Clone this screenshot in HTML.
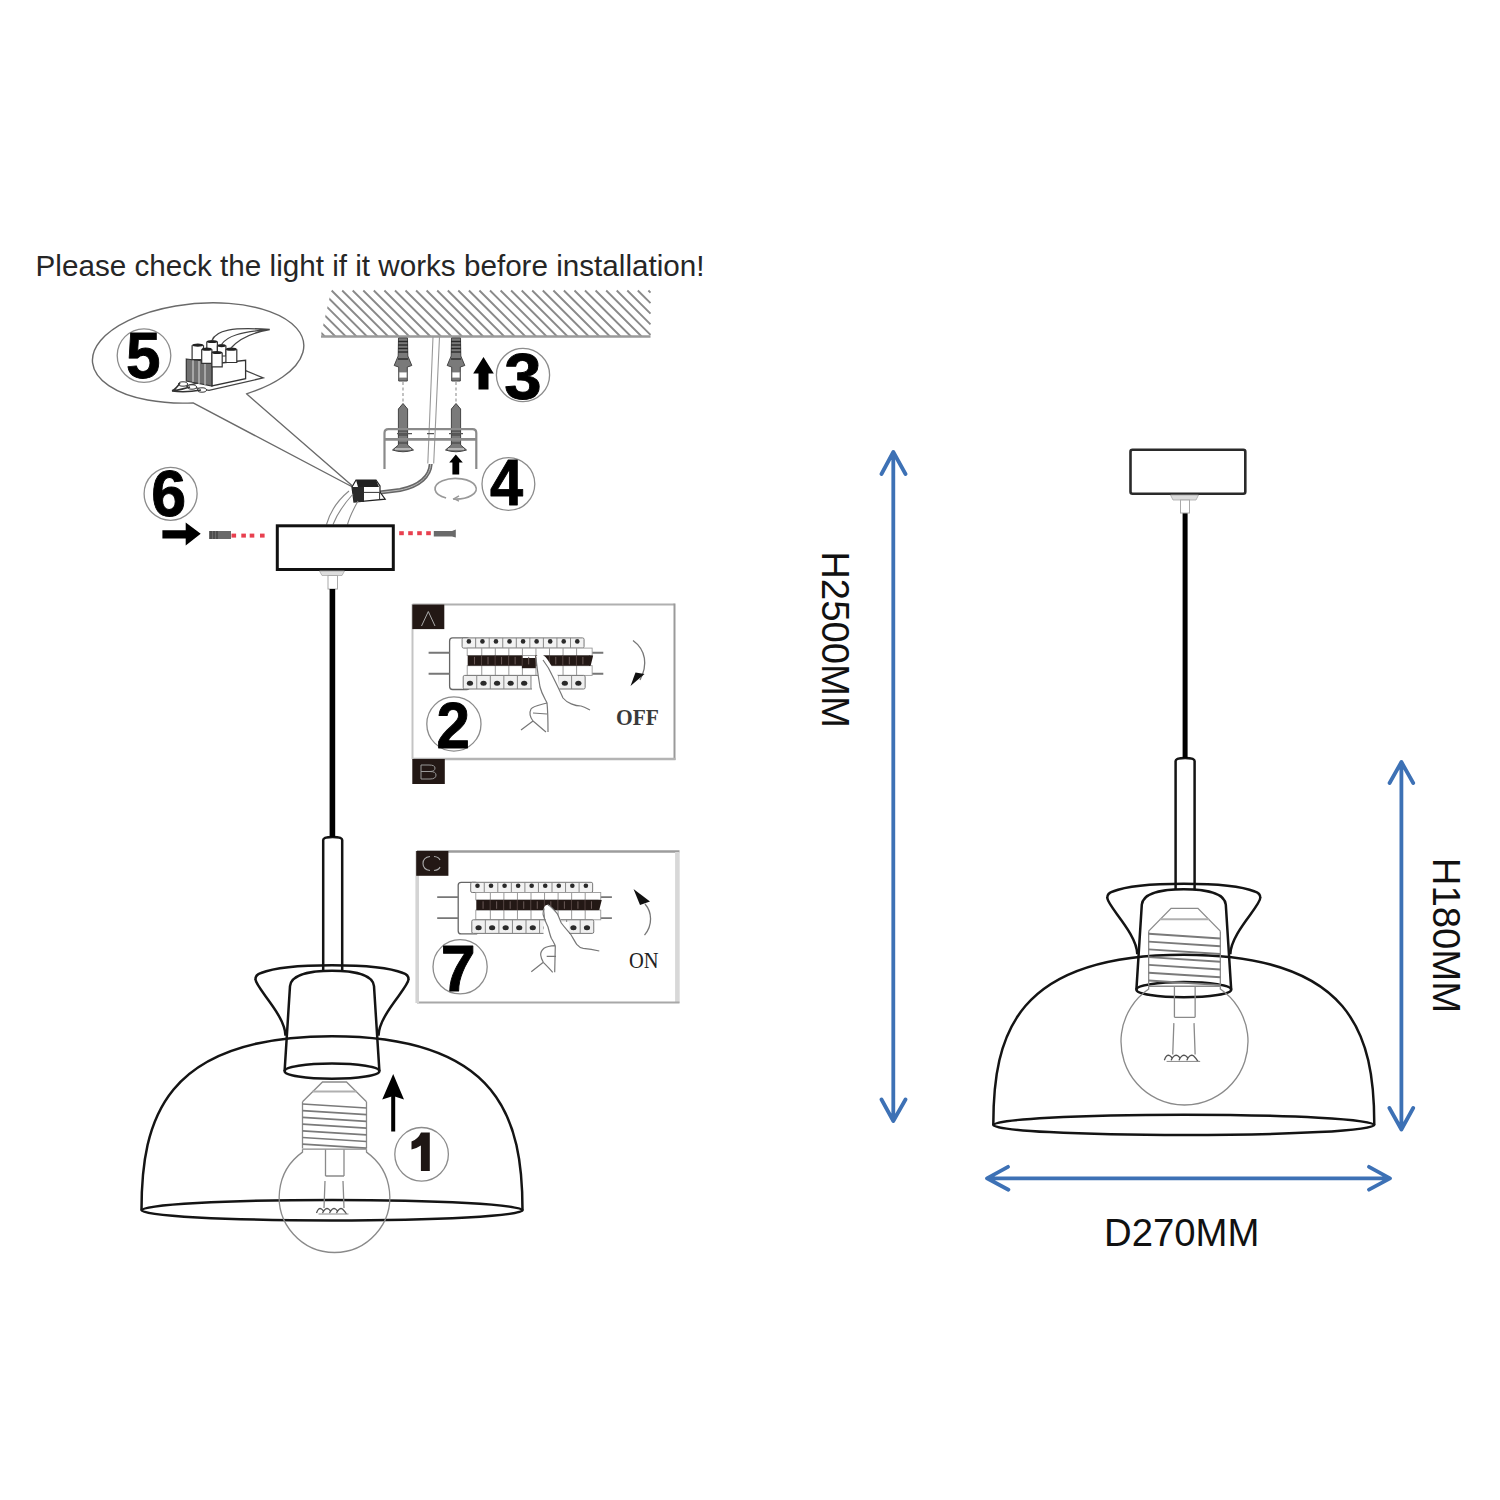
<!DOCTYPE html>
<html><head><meta charset="utf-8"><style>
html,body{margin:0;padding:0;background:#fff;width:1500px;height:1500px;overflow:hidden}
svg{display:block}
</style></head><body>
<svg width="1500" height="1500" viewBox="0 0 1500 1500">
<rect width="1500" height="1500" fill="#fff"/>
<text x="35.6" y="275.8" font-family="Liberation Sans" font-size="29.65" fill="#262626">Please check the light if it works before installation!</text>
<defs><clipPath id="hc"><path d="M331.6 289 L652 289 L652 337 L320.5 337 Z"/></clipPath></defs>
<path clip-path="url(#hc)" d="M318.0 329.7L324.8 336.5M318.0 319.1L335.4 336.5M318.0 308.6L345.9 336.5M318.0 298.0L356.5 336.5M321.0 290.5L367.0 336.5M331.6 290.5L377.6 336.5M342.2 290.5L388.2 336.5M352.7 290.5L398.7 336.5M363.3 290.5L409.3 336.5M373.8 290.5L419.8 336.5M384.4 290.5L430.4 336.5M395.0 290.5L441.0 336.5M405.5 290.5L451.5 336.5M416.1 290.5L462.1 336.5M426.6 290.5L472.6 336.5M437.2 290.5L483.2 336.5M447.8 290.5L493.8 336.5M458.3 290.5L504.3 336.5M468.9 290.5L514.9 336.5M479.4 290.5L525.4 336.5M490.0 290.5L536.0 336.5M500.6 290.5L546.6 336.5M511.1 290.5L557.1 336.5M521.7 290.5L567.7 336.5M532.2 290.5L578.2 336.5M542.8 290.5L588.8 336.5M553.4 290.5L599.4 336.5M563.9 290.5L609.9 336.5M574.5 290.5L620.5 336.5M585.0 290.5L631.0 336.5M595.6 290.5L641.6 336.5M606.2 290.5L650.5 334.8M616.7 290.5L650.5 324.3M627.3 290.5L650.5 313.7M637.8 290.5L650.5 303.2M648.4 290.5L650.5 292.6" stroke="#8a8a8a" stroke-width="1.9" fill="none"/>
<line x1="321" y1="336.5" x2="650.5" y2="336.5" stroke="#9a9a9a" stroke-width="2.4"/>
<path d="M398.5 338 L407.5 338 L407.8 356 L411.8 365.5 L407.3 367 L407.3 381 L398.7 381 L398.7 367 L394.2 365.5 L398.2 356 Z" fill="#7a7a7a" stroke="#444" stroke-width="1"/><line x1="398" y1="341.5" x2="408" y2="341.5" stroke="#2a2a2a" stroke-width="1.4"/><line x1="398" y1="345" x2="408" y2="345" stroke="#2a2a2a" stroke-width="1.4"/><line x1="398" y1="348.5" x2="408" y2="348.5" stroke="#2a2a2a" stroke-width="1.4"/><line x1="398" y1="352" x2="408" y2="352" stroke="#2a2a2a" stroke-width="1.4"/><line x1="398" y1="359" x2="408" y2="359" stroke="#2a2a2a" stroke-width="1.4"/><rect x="399" y="372" width="8" height="6" fill="#fff" stroke="#777" stroke-width="0.8"/><line x1="403" y1="382" x2="403" y2="402" stroke="#999" stroke-width="1.2" stroke-dasharray="3 2.5"/><path d="M403 403.5 L407.6 409 L407.6 445 L413.5 450 Q403 453.5 392.5 450 L398.4 445 L398.4 409 Z" fill="#7a7a7a" stroke="#444" stroke-width="1"/><line x1="398.4" y1="431" x2="407.6" y2="431" stroke="#3a3a3a" stroke-width="1"/><line x1="398.4" y1="435" x2="407.6" y2="435" stroke="#3a3a3a" stroke-width="1"/><line x1="398.4" y1="439" x2="407.6" y2="439" stroke="#3a3a3a" stroke-width="1"/><line x1="398.4" y1="443" x2="407.6" y2="443" stroke="#3a3a3a" stroke-width="1"/><line x1="395" y1="449" x2="411" y2="449" stroke="#ddd" stroke-width="1.2"/>
<path d="M451.5 338 L460.5 338 L460.8 356 L464.8 365.5 L460.3 367 L460.3 381 L451.7 381 L451.7 367 L447.2 365.5 L451.2 356 Z" fill="#7a7a7a" stroke="#444" stroke-width="1"/><line x1="451" y1="341.5" x2="461" y2="341.5" stroke="#2a2a2a" stroke-width="1.4"/><line x1="451" y1="345" x2="461" y2="345" stroke="#2a2a2a" stroke-width="1.4"/><line x1="451" y1="348.5" x2="461" y2="348.5" stroke="#2a2a2a" stroke-width="1.4"/><line x1="451" y1="352" x2="461" y2="352" stroke="#2a2a2a" stroke-width="1.4"/><line x1="451" y1="359" x2="461" y2="359" stroke="#2a2a2a" stroke-width="1.4"/><rect x="452" y="372" width="8" height="6" fill="#fff" stroke="#777" stroke-width="0.8"/><line x1="456" y1="382" x2="456" y2="402" stroke="#999" stroke-width="1.2" stroke-dasharray="3 2.5"/><path d="M456 403.5 L460.6 409 L460.6 445 L466.5 450 Q456 453.5 445.5 450 L451.4 445 L451.4 409 Z" fill="#7a7a7a" stroke="#444" stroke-width="1"/><line x1="451.4" y1="431" x2="460.6" y2="431" stroke="#3a3a3a" stroke-width="1"/><line x1="451.4" y1="435" x2="460.6" y2="435" stroke="#3a3a3a" stroke-width="1"/><line x1="451.4" y1="439" x2="460.6" y2="439" stroke="#3a3a3a" stroke-width="1"/><line x1="451.4" y1="443" x2="460.6" y2="443" stroke="#3a3a3a" stroke-width="1"/><line x1="448" y1="449" x2="464" y2="449" stroke="#ddd" stroke-width="1.2"/>
<path d="M433 337 L427.8 463.5 M439.5 337 L433.7 463.5" stroke="#999" stroke-width="1.1" fill="none"/>
<path d="M430.7 464 C430 476 420 486 400 490 L380 492.5" stroke="#666" stroke-width="4" fill="none"/>
<path d="M430.7 464 C430 476 420 486 400 490 L380 492.5" stroke="#bbb" stroke-width="1" fill="none"/>
<path d="M384.5 469 L384.5 433 Q384.5 429.2 388.5 429.2 L472.5 429.2 Q476.3 429.2 476.3 433 L476.3 469" stroke="#8a8a8a" stroke-width="2.2" fill="none"/>
<line x1="384.5" y1="439.4" x2="476.3" y2="439.4" stroke="#8a8a8a" stroke-width="2.6"/>
<path d="M397 433.6 L412 433.6 M427 433.6 L434 433.6 M449 433.6 L463 433.6" stroke="#555" stroke-width="1.4"/>
<path d="M483.5 357 L493.8 373.5 L488.5 373.5 L488.5 389.5 L478.5 389.5 L478.5 373.5 L473.2 373.5 Z" fill="#000"/>
<path d="M455.8 454.4 L462.8 462.4 L459.2 462.4 L459.2 474.4 L452.4 474.4 L452.4 462.4 L449.2 462.4 Z" fill="#000"/>
<path d="M446.1 498 A20.6 10.4 0 1 1 453.2 499.1" stroke="#999" stroke-width="1.7" fill="none"/>
<path d="M459 495.8 L454 498.8 L459 501.2" stroke="#999" stroke-width="1.4" fill="none"/>
<path d="M352.5 486 L246.5 393.8 A106 49.5 -5 1 0 193.1 402.9 L352.5 487" stroke="#6a6a6a" stroke-width="1.4" fill="none" stroke-linejoin="round"/>
<path d="M245.6 370.6 L263.2 377.9 L209 390.4 L186 386 Z" fill="#fff" stroke="#444" stroke-width="1.3"/><path d="M211.9 364 L245.6 360.3 L245.6 378.7 L211.9 386 Z" fill="#fff" stroke="#333" stroke-width="1.3"/><path d="M186.3 359 L211.9 362 L211.9 386 L186.3 381 Z" fill="#707070" stroke="#333" stroke-width="1.2"/><path d="M193 360 L193 382 M199 361 L199 384 M205 362 L205 385" stroke="#ddd" stroke-width="1"/><ellipse cx="183" cy="384" rx="4.5" ry="2.2" fill="#fff" stroke="#333" stroke-width="1"/><ellipse cx="192" cy="387" rx="4.5" ry="2.2" fill="#fff" stroke="#333" stroke-width="1"/><ellipse cx="202" cy="390" rx="4.5" ry="2.2" fill="#fff" stroke="#333" stroke-width="1"/><path d="M206.8 341.5 L206.8 352 L217.4 352 L217.4 341.5" fill="#fff" stroke="#333" stroke-width="1.2"/><ellipse cx="212.10000000000002" cy="341.5" rx="5.299999999999997" ry="1.6" fill="#222"/><path d="M217.4 345.6 L217.4 356 L225.9 356 L225.9 345.6" fill="#fff" stroke="#333" stroke-width="1.2"/><ellipse cx="221.65" cy="345.6" rx="4.25" ry="1.6" fill="#222"/><path d="M192.1 345.2 L192.1 359.6 L203.5 359.6 L203.5 345.2" fill="#fff" stroke="#333" stroke-width="1.2"/><ellipse cx="197.8" cy="345.2" rx="5.700000000000003" ry="1.6" fill="#222"/><path d="M201.7 349.2 L201.7 363.3 L211.9 363.3 L211.9 349.2" fill="#fff" stroke="#333" stroke-width="1.2"/><ellipse cx="206.8" cy="349.2" rx="5.1000000000000085" ry="1.6" fill="#222"/><path d="M225.9 349.2 L225.9 362.5 L236.8 362.5 L236.8 349.2" fill="#fff" stroke="#333" stroke-width="1.2"/><ellipse cx="231.35000000000002" cy="349.2" rx="5.450000000000003" ry="1.6" fill="#222"/><path d="M211.9 352.5 L211.9 366.9 L222.2 366.9 L222.2 352.5" fill="#fff" stroke="#333" stroke-width="1.2"/><ellipse cx="217.05" cy="352.5" rx="5.1499999999999915" ry="1.6" fill="#222"/><path d="M212 340.5 C216 330 232 327 269.8 329.5 M221.5 344.5 C227 336 240 332 269.8 329.5 M231 348 C238 340 250 333 269.8 329.5" stroke="#444" stroke-width="1.3" fill="none"/><path d="M180 383 C178 386 176 389 172 390.8 M190 387 C184 389 178 390 172 390.8 M201 390 C190 392 180 392 172 391" stroke="#333" stroke-width="1.5" fill="none"/>
<path d="M352 487 L356 480 L376 480 L380 486 L380 492 L385.2 499.2 L354 502 Z" fill="#fff" stroke="#222" stroke-width="1.2"/>
<path d="M356 480 L376 480 L379 487 L358 487 Z" fill="#222"/>
<path d="M352 487 L364 487 L364 502 L354 502 Z" fill="#2a2a2a"/>
<path d="M364 492.4 L379.6 492.4 L379.6 500" stroke="#333" stroke-width="1" fill="none"/>
<path d="M349 491 C338 500 330 512 326.5 524.5 M353 494 C344 504 337 514 333 524.5 M358 501 C353 510 349.5 517 347.5 524.5" stroke="#888" stroke-width="1.1" fill="none"/>
<rect x="277.3" y="525.8" width="116" height="43.7" stroke="#111" stroke-width="3" fill="none"/>
<path d="M319.5 571 L344.5 571 L342 575.5 L322 575.5 Z" fill="#ddd" stroke="#aaa" stroke-width="0.8"/>
<rect x="328" y="575.5" width="9.5" height="13.5" fill="#fff" stroke="#aaa" stroke-width="1"/>
<path d="M162.4 530.2 L185.7 530.2 L185.7 522.6 L200.7 533.8 L185.7 545.4 L185.7 538.6 L162.4 538.6 Z" fill="#000"/>
<path d="M209 531 L231 531 L231 539 L209 539 Z" fill="#6a6a6a"/><path d="M211 531 L211 539 M214 531 L214 539 M217 531 L217 539" stroke="#333" stroke-width="1"/>
<path d="M433.8 531 L452 531 L455.8 529.5 L455.8 537.5 L452 536.5 L433.8 536.5 Z" fill="#6a6a6a"/>
<rect x="231.5" y="533.6" width="4.6" height="4" fill="#e8404f"/>
<rect x="241.29999999999998" y="533.6" width="4.6" height="4" fill="#e8404f"/>
<rect x="249.7" y="533.6" width="4.6" height="4" fill="#e8404f"/>
<rect x="260.0" y="533.6" width="4.6" height="4" fill="#e8404f"/>
<rect x="399.2" y="531.2" width="4.6" height="4" fill="#e8404f"/>
<rect x="408.2" y="531.2" width="4.6" height="4" fill="#e8404f"/>
<rect x="417.2" y="531.2" width="4.6" height="4" fill="#e8404f"/>
<rect x="426.2" y="531.2" width="4.6" height="4" fill="#e8404f"/>
<rect x="329.6" y="589" width="5.4" height="249" fill="#000"/>
<path d="M141.5 1210.2 C141.5 1120.2 163.5 1036.2 332 1036.2 C500.5 1036.2 522.5 1120.2 522.5 1210.2" stroke="#141414" fill="none" stroke-width="2.5" stroke-linejoin="round"/><ellipse cx="332" cy="1210.2" rx="190.5" ry="10.2" stroke="#141414" fill="none" stroke-width="2.5" stroke-linejoin="round"/><path d="M285.50 1035.70 C285.00 1014.20 255.00 987.20 255.50 979.20 Q255.50 974.70 261.00 973.00 C274.00 967.70 302.00 965.20 332.00 965.20 C362.00 965.20 390.00 967.70 403.00 973.00 Q408.50 974.70 408.50 979.20 C409.00 987.20 379.00 1014.20 378.50 1035.70" stroke="#141414" fill="none" stroke-width="2.5" stroke-linejoin="round"/><path d="M323.2 971.2 L323.2 840 Q323.2 837 332.7 837 Q342.2 837 342.2 840 L342.2 971.2" stroke="#141414" fill="none" stroke-width="2.5" stroke-linejoin="round" /><rect x="330.2" y="589" width="5" height="248" fill="#000"/><path d="M284.6 1071.2 L290 986.2 C291 974.7 310 970.7 332 970.7 C354 970.7 373 974.7 374 986.2 L379.4 1071.2" stroke="#141414" fill="none" stroke-width="2.5" stroke-linejoin="round"/><ellipse cx="332" cy="1071.2" rx="47.4" ry="7.6" stroke="#141414" fill="none" stroke-width="2.5" stroke-linejoin="round"/>
<path d="M302.5 1101.7 L322.5 1082.0 L346.5 1082.0 L366.5 1101.7" stroke="#8a8a8a" fill="none" stroke-width="1.3"/><line x1="312.5" y1="1091.5" x2="356.5" y2="1091.5" stroke="#b0b0b0" stroke-width="2"/><path d="M302.5 1101.7 L302.5 1148.6 M366.5 1101.7 L366.5 1148.6" stroke="#8a8a8a" fill="none" stroke-width="1.3"/><path d="M302.5 1104.0 L366.5 1108.0" stroke="#7a7a7a" fill="none" stroke-width="1.70"/><path d="M302.5 1110.7 L366.5 1114.7" stroke="#7a7a7a" fill="none" stroke-width="1.70"/><path d="M302.5 1117.4 L366.5 1121.4" stroke="#7a7a7a" fill="none" stroke-width="1.70"/><path d="M302.5 1124.1 L366.5 1128.1" stroke="#7a7a7a" fill="none" stroke-width="1.70"/><path d="M302.5 1130.8 L366.5 1134.8" stroke="#7a7a7a" fill="none" stroke-width="1.70"/><path d="M302.5 1137.5 L366.5 1141.5" stroke="#7a7a7a" fill="none" stroke-width="1.70"/><path d="M302.5 1144.2 L366.5 1148.2" stroke="#7a7a7a" fill="none" stroke-width="1.70"/><line x1="302.5" y1="1149.2" x2="366.5" y2="1149.2" stroke="#8a8a8a" fill="none" stroke-width="1.3"/><path d="M302.5 1149.2 L302.5 1152.10 A55.3 55.3 0 1 0 366.5 1152.10 L366.5 1149.2" stroke="#8a8a8a" fill="none" stroke-width="1.3"/><path d="M325.5 1149.5 L325.5 1176.0 M344.0 1149.5 L344.0 1176.0 M325.5 1176.0 L344.0 1176.0 M325.0 1181.0 L324.0 1208.0 M343.0 1181.0 L344.0 1208.0" stroke="#8a8a8a" fill="none" stroke-width="1.3"/><path d="M316.5 1213.0 q2.0 -6.0 5.0 -4.0 q3.0 2.0 1.0 4.0 q3.0 -6.0 6.0 -4.0 q3.0 2.0 1.0 4.0 q3.0 -6.0 6.0 -4.0 q3.0 2.0 1.0 4.0 q3.0 -6.0 6.0 -4.0 q3.0 3.0 4.0 5.0" stroke="#555" fill="none" stroke-width="1.3"/><line x1="318.5" y1="1214.0" x2="348.5" y2="1214.0" stroke="#888" stroke-width="1"/>
<path d="M993.3 1124.9 C993.3 1034.9 1015.3 954.7 1183.8 954.7 C1352.3 954.7 1374.3 1034.9 1374.3 1124.9" stroke="#141414" fill="none" stroke-width="2.5" stroke-linejoin="round"/><ellipse cx="1183.8" cy="1124.9" rx="190.5" ry="10.2" stroke="#141414" fill="none" stroke-width="2.5" stroke-linejoin="round"/><path d="M1137.30 954.20 C1136.80 932.70 1106.80 905.70 1107.30 897.70 Q1107.30 893.20 1112.80 891.50 C1125.80 886.20 1153.80 883.70 1183.80 883.70 C1213.80 883.70 1241.80 886.20 1254.80 891.50 Q1260.30 893.20 1260.30 897.70 C1260.80 905.70 1230.80 932.70 1230.30 954.20" stroke="#141414" fill="none" stroke-width="2.5" stroke-linejoin="round"/><path d="M1175.6 889.7 L1175.6 761 Q1175.6 758 1185.1 758 Q1194.6 758 1194.6 761 L1194.6 889.7" stroke="#141414" fill="none" stroke-width="2.5" stroke-linejoin="round" /><rect x="1182.6" y="513" width="5" height="245" fill="#000"/><path d="M1136.3999999999999 989.7 L1141.8 904.7 C1142.8 893.2 1161.8 889.2 1183.8 889.2 C1205.8 889.2 1224.8 893.2 1225.8 904.7 L1231.2 989.7" stroke="#141414" fill="none" stroke-width="2.5" stroke-linejoin="round"/><ellipse cx="1183.8" cy="989.7" rx="47.4" ry="7.6" stroke="#141414" fill="none" stroke-width="2.5" stroke-linejoin="round"/>
<path d="M1148.66 931.15 L1171.06 908.3 L1197.94 908.3 L1220.34 931.15" stroke="#8a8a8a" fill="none" stroke-width="1.3"/><line x1="1159.86" y1="919.32" x2="1209.14" y2="919.32" stroke="#b0b0b0" stroke-width="2"/><path d="M1148.66 931.15 L1148.66 985.56 M1220.34 931.15 L1220.34 985.56" stroke="#8a8a8a" fill="none" stroke-width="1.3"/><path d="M1148.66 933.82 L1220.34 938.46" stroke="#7a7a7a" fill="none" stroke-width="1.90"/><path d="M1148.66 941.59 L1220.34 946.23" stroke="#7a7a7a" fill="none" stroke-width="1.90"/><path d="M1148.66 949.36 L1220.34 954.0" stroke="#7a7a7a" fill="none" stroke-width="1.90"/><path d="M1148.66 957.14 L1220.34 961.78" stroke="#7a7a7a" fill="none" stroke-width="1.90"/><path d="M1148.66 964.91 L1220.34 969.55" stroke="#7a7a7a" fill="none" stroke-width="1.90"/><path d="M1148.66 972.68 L1220.34 977.32" stroke="#7a7a7a" fill="none" stroke-width="1.90"/><path d="M1148.66 980.45 L1220.34 985.09" stroke="#7a7a7a" fill="none" stroke-width="1.90"/><line x1="1148.66" y1="986.25" x2="1220.34" y2="986.25" stroke="#8a8a8a" fill="none" stroke-width="1.3"/><path d="M1148.66 986.25 L1148.66 989.08 A63.5 63.5 0 1 0 1220.34 989.08 L1220.34 986.25" stroke="#8a8a8a" fill="none" stroke-width="1.3"/><path d="M1174.42 986.6 L1174.42 1017.34 M1195.14 986.6 L1195.14 1017.34 M1174.42 1017.34 L1195.14 1017.34 M1173.86 1023.14 L1172.74 1054.46 M1194.02 1023.14 L1195.14 1054.46" stroke="#8a8a8a" fill="none" stroke-width="1.3"/><path d="M1164.34 1060.26 q2.24 -6.720000000000001 5.6000000000000005 -4.48 q3.3600000000000003 2.24 1.12 4.48 q3.3600000000000003 -6.720000000000001 6.720000000000001 -4.48 q3.3600000000000003 2.24 1.12 4.48 q3.3600000000000003 -6.720000000000001 6.720000000000001 -4.48 q3.3600000000000003 2.24 1.12 4.48 q3.3600000000000003 -6.720000000000001 6.720000000000001 -4.48 q3.3600000000000003 3.3600000000000003 4.48 5.6000000000000005" stroke="#555" fill="none" stroke-width="1.3"/><line x1="1166.58" y1="1061.42" x2="1200.18" y2="1061.42" stroke="#888" stroke-width="1"/>
<path d="M393.2 1074 L404 1099.5 L393.2 1096 L382.2 1099.5 Z" fill="#000"/>
<rect x="391.2" y="1096" width="4" height="35.5" fill="#000"/>
<rect x="1130.5" y="449.8" width="114.8" height="44" rx="2" stroke="#2a2a2a" stroke-width="2.6" fill="none"/>
<path d="M1170.5 495 L1198.5 495 L1196 500 L1173 500 Z" fill="#ddd" stroke="#aaa" stroke-width="0.8"/>
<rect x="1180.5" y="500" width="9" height="13" fill="#fff" stroke="#aaa" stroke-width="1"/>
<path d="M412.5 604.5 L674.5 604.5" stroke="#b0b0b0" stroke-width="2.2"/><path d="M674.5 603.5 L674.5 760" stroke="#9a9a9a" stroke-width="2"/><path d="M412.5 759 L675.5 759" stroke="#b4b4b4" stroke-width="2.5"/><path d="M412.5 604 L412.5 759" stroke="#c4c4c4" stroke-width="2"/>
<rect x="412.3" y="604.6" width="32" height="24.5" fill="#231815"/>
<path d="M421.5 626 L428.3 611.5 L435 626" stroke="#aaa" stroke-width="1" fill="none"/>
<rect x="412.3" y="759" width="32.5" height="25" fill="#231815"/>
<path d="M421 765 L421 779 L430 779 Q436 779 436 775 Q436 771.5 430 771.5 L421 771.5 M430 771.5 Q435 771.5 435 768 Q435 765 429 765 L421 765" stroke="#999" stroke-width="1" fill="none"/>
<rect x="449.6" y="637.9" width="20" height="51.6" rx="3" fill="#fff" stroke="#666" stroke-width="1.3"/><path d="M428.6 652.6999999999999 L449.6 652.6999999999999 M428.6 673.6999999999999 L449.6 673.6999999999999 M589.6 652.6999999999999 L603.3 652.6999999999999 M589.6 673.6999999999999 L603.3 673.6999999999999" stroke="#777" stroke-width="1.9"/><rect x="462.1" y="637.9" width="121.95" height="10.2" rx="1.5" fill="#f2f2f2" stroke="#777" stroke-width="1"/><circle cx="468.875" cy="641.4" r="2.3" fill="#2a2a2a"/><line x1="475.65000000000003" y1="637.9" x2="475.65000000000003" y2="648.1" stroke="#888" stroke-width="1"/><circle cx="482.425" cy="641.4" r="2.3" fill="#2a2a2a"/><line x1="489.20000000000005" y1="637.9" x2="489.20000000000005" y2="648.1" stroke="#888" stroke-width="1"/><circle cx="495.975" cy="641.4" r="2.3" fill="#2a2a2a"/><line x1="502.75" y1="637.9" x2="502.75" y2="648.1" stroke="#888" stroke-width="1"/><circle cx="509.525" cy="641.4" r="2.3" fill="#2a2a2a"/><line x1="516.3000000000001" y1="637.9" x2="516.3000000000001" y2="648.1" stroke="#888" stroke-width="1"/><circle cx="523.075" cy="641.4" r="2.3" fill="#2a2a2a"/><line x1="529.85" y1="637.9" x2="529.85" y2="648.1" stroke="#888" stroke-width="1"/><circle cx="536.625" cy="641.4" r="2.3" fill="#2a2a2a"/><line x1="543.4000000000001" y1="637.9" x2="543.4000000000001" y2="648.1" stroke="#888" stroke-width="1"/><circle cx="550.1750000000001" cy="641.4" r="2.3" fill="#2a2a2a"/><line x1="556.95" y1="637.9" x2="556.95" y2="648.1" stroke="#888" stroke-width="1"/><circle cx="563.725" cy="641.4" r="2.3" fill="#2a2a2a"/><line x1="570.5" y1="637.9" x2="570.5" y2="648.1" stroke="#888" stroke-width="1"/><circle cx="577.275" cy="641.4" r="2.3" fill="#2a2a2a"/><rect x="467.20000000000005" y="648.1" width="124.95" height="7.4" fill="#fff" stroke="#999" stroke-width="0.9"/><rect x="467.20000000000005" y="665.6999999999999" width="124.95" height="9.7" fill="#fff" stroke="#999" stroke-width="0.9"/><line x1="481.75000000000006" y1="648.1" x2="481.75000000000006" y2="675.4" stroke="#999" stroke-width="1"/><line x1="495.30000000000007" y1="648.1" x2="495.30000000000007" y2="675.4" stroke="#999" stroke-width="1"/><line x1="508.85" y1="648.1" x2="508.85" y2="675.4" stroke="#999" stroke-width="1"/><line x1="522.4000000000001" y1="648.1" x2="522.4000000000001" y2="675.4" stroke="#999" stroke-width="1"/><line x1="535.95" y1="648.1" x2="535.95" y2="675.4" stroke="#999" stroke-width="1"/><line x1="549.5" y1="648.1" x2="549.5" y2="675.4" stroke="#999" stroke-width="1"/><line x1="563.0500000000001" y1="648.1" x2="563.0500000000001" y2="675.4" stroke="#999" stroke-width="1"/><line x1="576.6" y1="648.1" x2="576.6" y2="675.4" stroke="#999" stroke-width="1"/><rect x="467.70000000000005" y="655.5" width="13.850000000000001" height="10.2" fill="#231815"/><rect x="481.25000000000006" y="655.5" width="13.850000000000001" height="10.2" fill="#231815"/><rect x="494.80000000000007" y="655.5" width="13.850000000000001" height="10.2" fill="#231815"/><rect x="508.35" y="655.5" width="13.850000000000001" height="10.2" fill="#231815"/><rect x="521.9000000000001" y="658.0" width="13.850000000000001" height="10.2" fill="#231815"/><rect x="535.45" y="655.5" width="13.850000000000001" height="10.2" fill="#231815"/><rect x="549.0" y="655.5" width="13.850000000000001" height="10.2" fill="#231815"/><rect x="562.5500000000001" y="655.5" width="13.850000000000001" height="10.2" fill="#231815"/><rect x="576.1" y="655.5" width="13.850000000000001" height="10.2" fill="#231815"/><line x1="474.475" y1="656.9" x2="474.475" y2="664.4" stroke="#6a5a58" stroke-width="1"/><line x1="488.02500000000003" y1="656.9" x2="488.02500000000003" y2="664.4" stroke="#6a5a58" stroke-width="1"/><line x1="481.55000000000007" y1="655.5" x2="481.55000000000007" y2="665.6999999999999" stroke="#5a4a48" stroke-width="0.8"/><line x1="501.57500000000005" y1="656.9" x2="501.57500000000005" y2="664.4" stroke="#6a5a58" stroke-width="1"/><line x1="495.1000000000001" y1="655.5" x2="495.1000000000001" y2="665.6999999999999" stroke="#5a4a48" stroke-width="0.8"/><line x1="515.125" y1="656.9" x2="515.125" y2="664.4" stroke="#6a5a58" stroke-width="1"/><line x1="508.65000000000003" y1="655.5" x2="508.65000000000003" y2="665.6999999999999" stroke="#5a4a48" stroke-width="0.8"/><line x1="528.6750000000001" y1="656.9" x2="528.6750000000001" y2="664.4" stroke="#6a5a58" stroke-width="1"/><line x1="522.2" y1="655.5" x2="522.2" y2="665.6999999999999" stroke="#5a4a48" stroke-width="0.8"/><line x1="542.225" y1="656.9" x2="542.225" y2="664.4" stroke="#6a5a58" stroke-width="1"/><line x1="535.75" y1="655.5" x2="535.75" y2="665.6999999999999" stroke="#5a4a48" stroke-width="0.8"/><line x1="555.775" y1="656.9" x2="555.775" y2="664.4" stroke="#6a5a58" stroke-width="1"/><line x1="549.3" y1="655.5" x2="549.3" y2="665.6999999999999" stroke="#5a4a48" stroke-width="0.8"/><line x1="569.325" y1="656.9" x2="569.325" y2="664.4" stroke="#6a5a58" stroke-width="1"/><line x1="562.85" y1="655.5" x2="562.85" y2="665.6999999999999" stroke="#5a4a48" stroke-width="0.8"/><line x1="582.875" y1="656.9" x2="582.875" y2="664.4" stroke="#6a5a58" stroke-width="1"/><line x1="576.4" y1="655.5" x2="576.4" y2="665.6999999999999" stroke="#5a4a48" stroke-width="0.8"/><path d="M589.1500000000001 655.5 L593.1500000000001 655.5 L590.6500000000001 665.6999999999999 L589.1500000000001 665.6999999999999 Z" fill="#231815"/><rect x="463.20000000000005" y="675.4" width="121.95" height="13.6" rx="1.5" fill="#f0f0f0" stroke="#777" stroke-width="1"/><ellipse cx="469.975" cy="683.3" rx="3.1" ry="2.5" fill="#2a2a2a"/><line x1="476.75000000000006" y1="675.4" x2="476.75000000000006" y2="689.0" stroke="#888" stroke-width="1"/><ellipse cx="483.52500000000003" cy="683.3" rx="3.1" ry="2.5" fill="#2a2a2a"/><line x1="490.30000000000007" y1="675.4" x2="490.30000000000007" y2="689.0" stroke="#888" stroke-width="1"/><ellipse cx="497.07500000000005" cy="683.3" rx="3.1" ry="2.5" fill="#2a2a2a"/><line x1="503.85" y1="675.4" x2="503.85" y2="689.0" stroke="#888" stroke-width="1"/><ellipse cx="510.625" cy="683.3" rx="3.1" ry="2.5" fill="#2a2a2a"/><line x1="517.4000000000001" y1="675.4" x2="517.4000000000001" y2="689.0" stroke="#888" stroke-width="1"/><ellipse cx="524.1750000000001" cy="683.3" rx="3.1" ry="2.5" fill="#2a2a2a"/><line x1="530.95" y1="675.4" x2="530.95" y2="689.0" stroke="#888" stroke-width="1"/><ellipse cx="537.725" cy="683.3" rx="3.1" ry="2.5" fill="#2a2a2a"/><line x1="544.5" y1="675.4" x2="544.5" y2="689.0" stroke="#888" stroke-width="1"/><ellipse cx="551.275" cy="683.3" rx="3.1" ry="2.5" fill="#2a2a2a"/><line x1="558.0500000000001" y1="675.4" x2="558.0500000000001" y2="689.0" stroke="#888" stroke-width="1"/><ellipse cx="564.825" cy="683.3" rx="3.1" ry="2.5" fill="#2a2a2a"/><line x1="571.6" y1="675.4" x2="571.6" y2="689.0" stroke="#888" stroke-width="1"/><ellipse cx="578.375" cy="683.3" rx="3.1" ry="2.5" fill="#2a2a2a"/>
<path d="M536 657 C538 652 545 654 549 662 L558 676 L559.5 690 C564 699 572 705 590 710 L590 745 L548 745 L547 703 L540 691 L532 691 L532 676 L538 676 Z" fill="#fff"/><path d="M536 657 C537 670 539 680 540 687 C542 695 546 700 547 703 C548 712 548 724 548 732" stroke="#777" stroke-width="1.2" fill="none"/><path d="M543 660 C546 664 549 668 552 675 C556 683 560 691 563 698 C567 703 575 706 581 706 C585 707 588 709 590 710" stroke="#777" stroke-width="1.2" fill="none"/><path d="M547 703 C540 705 533 706 531 709 C529 713 530 717 533 721 C538 725 542 729 546 732 M533 721 L521 730 M533 713 L547 714" stroke="#777" stroke-width="1.2" fill="none"/>
<path d="M633 640.5 C646 650 648 665 640 680" stroke="#777" stroke-width="1.3" fill="none"/>
<path d="M635.5 672.5 L644.5 674 L630.5 686 Z" fill="#111"/>
<text x="616" y="724.8" font-family="Liberation Serif" font-weight="bold" font-size="21.5" fill="#3a3a3a" transform="translate(616,724.8) scale(1,1.12) translate(-616,-724.8)">OFF</text>
<circle cx="453.9" cy="724" r="27.1" stroke="#8c8c8c" stroke-width="1.3" fill="none"/><text font-family="Liberation Sans" font-weight="bold" font-size="64" text-anchor="middle" fill="#000" stroke="#000" stroke-width="0.9" stroke-linejoin="round" transform="translate(453.29999999999995,747.5) scale(0.94,1)">2</text>
<path d="M417 851.5 L679.5 851.5" stroke="#9c9c9c" stroke-width="2.5"/><path d="M677.4 852 L677.4 1003" stroke="#d8d8d8" stroke-width="4.6"/><path d="M417 1002.5 L679.5 1002.5" stroke="#a8a8a8" stroke-width="2.2"/><path d="M417.2 851 L417.2 1003" stroke="#d4d4d4" stroke-width="3.6"/>
<rect x="416.2" y="851" width="32.2" height="24.8" fill="#231815"/>
<path d="M430 856.5 Q423 857.5 423 863.5 Q423 869.5 430 870.5 M434 856.5 Q439 857 440 860 M434 870.5 Q439 870 440 867" stroke="#aaa" stroke-width="1.1" fill="none"/>
<rect x="458.2" y="882.3" width="20" height="51.6" rx="3" fill="#fff" stroke="#666" stroke-width="1.3"/><path d="M437.2 897.0999999999999 L458.2 897.0999999999999 M437.2 918.0999999999999 L458.2 918.0999999999999 M598.2 897.0999999999999 L611.9 897.0999999999999 M598.2 918.0999999999999 L611.9 918.0999999999999" stroke="#777" stroke-width="1.9"/><rect x="470.7" y="882.3" width="121.95" height="10.2" rx="1.5" fill="#f2f2f2" stroke="#777" stroke-width="1"/><circle cx="477.47499999999997" cy="885.8" r="2.3" fill="#2a2a2a"/><line x1="484.25" y1="882.3" x2="484.25" y2="892.5" stroke="#888" stroke-width="1"/><circle cx="491.025" cy="885.8" r="2.3" fill="#2a2a2a"/><line x1="497.8" y1="882.3" x2="497.8" y2="892.5" stroke="#888" stroke-width="1"/><circle cx="504.575" cy="885.8" r="2.3" fill="#2a2a2a"/><line x1="511.35" y1="882.3" x2="511.35" y2="892.5" stroke="#888" stroke-width="1"/><circle cx="518.125" cy="885.8" r="2.3" fill="#2a2a2a"/><line x1="524.9" y1="882.3" x2="524.9" y2="892.5" stroke="#888" stroke-width="1"/><circle cx="531.675" cy="885.8" r="2.3" fill="#2a2a2a"/><line x1="538.45" y1="882.3" x2="538.45" y2="892.5" stroke="#888" stroke-width="1"/><circle cx="545.225" cy="885.8" r="2.3" fill="#2a2a2a"/><line x1="552.0" y1="882.3" x2="552.0" y2="892.5" stroke="#888" stroke-width="1"/><circle cx="558.775" cy="885.8" r="2.3" fill="#2a2a2a"/><line x1="565.55" y1="882.3" x2="565.55" y2="892.5" stroke="#888" stroke-width="1"/><circle cx="572.3249999999999" cy="885.8" r="2.3" fill="#2a2a2a"/><line x1="579.1" y1="882.3" x2="579.1" y2="892.5" stroke="#888" stroke-width="1"/><circle cx="585.875" cy="885.8" r="2.3" fill="#2a2a2a"/><rect x="475.8" y="892.5" width="124.95" height="7.4" fill="#fff" stroke="#999" stroke-width="0.9"/><rect x="475.8" y="910.0999999999999" width="124.95" height="9.7" fill="#fff" stroke="#999" stroke-width="0.9"/><line x1="490.35" y1="892.5" x2="490.35" y2="919.8" stroke="#999" stroke-width="1"/><line x1="503.90000000000003" y1="892.5" x2="503.90000000000003" y2="919.8" stroke="#999" stroke-width="1"/><line x1="517.45" y1="892.5" x2="517.45" y2="919.8" stroke="#999" stroke-width="1"/><line x1="531.0" y1="892.5" x2="531.0" y2="919.8" stroke="#999" stroke-width="1"/><line x1="544.55" y1="892.5" x2="544.55" y2="919.8" stroke="#999" stroke-width="1"/><line x1="558.1" y1="892.5" x2="558.1" y2="919.8" stroke="#999" stroke-width="1"/><line x1="571.65" y1="892.5" x2="571.65" y2="919.8" stroke="#999" stroke-width="1"/><line x1="585.2" y1="892.5" x2="585.2" y2="919.8" stroke="#999" stroke-width="1"/><rect x="476.3" y="899.9" width="13.850000000000001" height="10.2" fill="#231815"/><rect x="489.85" y="899.9" width="13.850000000000001" height="10.2" fill="#231815"/><rect x="503.40000000000003" y="899.9" width="13.850000000000001" height="10.2" fill="#231815"/><rect x="516.95" y="899.9" width="13.850000000000001" height="10.2" fill="#231815"/><rect x="530.5" y="899.9" width="13.850000000000001" height="10.2" fill="#231815"/><rect x="544.05" y="899.9" width="13.850000000000001" height="10.2" fill="#231815"/><rect x="557.6" y="899.9" width="13.850000000000001" height="10.2" fill="#231815"/><rect x="571.15" y="899.9" width="13.850000000000001" height="10.2" fill="#231815"/><rect x="584.7" y="899.9" width="13.850000000000001" height="10.2" fill="#231815"/><line x1="483.075" y1="901.3" x2="483.075" y2="908.8" stroke="#6a5a58" stroke-width="1"/><line x1="496.625" y1="901.3" x2="496.625" y2="908.8" stroke="#6a5a58" stroke-width="1"/><line x1="490.15000000000003" y1="899.9" x2="490.15000000000003" y2="910.0999999999999" stroke="#5a4a48" stroke-width="0.8"/><line x1="510.175" y1="901.3" x2="510.175" y2="908.8" stroke="#6a5a58" stroke-width="1"/><line x1="503.70000000000005" y1="899.9" x2="503.70000000000005" y2="910.0999999999999" stroke="#5a4a48" stroke-width="0.8"/><line x1="523.725" y1="901.3" x2="523.725" y2="908.8" stroke="#6a5a58" stroke-width="1"/><line x1="517.25" y1="899.9" x2="517.25" y2="910.0999999999999" stroke="#5a4a48" stroke-width="0.8"/><line x1="537.275" y1="901.3" x2="537.275" y2="908.8" stroke="#6a5a58" stroke-width="1"/><line x1="530.8" y1="899.9" x2="530.8" y2="910.0999999999999" stroke="#5a4a48" stroke-width="0.8"/><line x1="550.8249999999999" y1="901.3" x2="550.8249999999999" y2="908.8" stroke="#6a5a58" stroke-width="1"/><line x1="544.3499999999999" y1="899.9" x2="544.3499999999999" y2="910.0999999999999" stroke="#5a4a48" stroke-width="0.8"/><line x1="564.375" y1="901.3" x2="564.375" y2="908.8" stroke="#6a5a58" stroke-width="1"/><line x1="557.9" y1="899.9" x2="557.9" y2="910.0999999999999" stroke="#5a4a48" stroke-width="0.8"/><line x1="577.925" y1="901.3" x2="577.925" y2="908.8" stroke="#6a5a58" stroke-width="1"/><line x1="571.4499999999999" y1="899.9" x2="571.4499999999999" y2="910.0999999999999" stroke="#5a4a48" stroke-width="0.8"/><line x1="591.475" y1="901.3" x2="591.475" y2="908.8" stroke="#6a5a58" stroke-width="1"/><line x1="585.0" y1="899.9" x2="585.0" y2="910.0999999999999" stroke="#5a4a48" stroke-width="0.8"/><path d="M597.75 899.9 L601.75 899.9 L599.25 910.0999999999999 L597.75 910.0999999999999 Z" fill="#231815"/><rect x="471.8" y="919.8" width="121.95" height="13.6" rx="1.5" fill="#f0f0f0" stroke="#777" stroke-width="1"/><ellipse cx="478.575" cy="927.6999999999999" rx="3.1" ry="2.5" fill="#2a2a2a"/><line x1="485.35" y1="919.8" x2="485.35" y2="933.4" stroke="#888" stroke-width="1"/><ellipse cx="492.125" cy="927.6999999999999" rx="3.1" ry="2.5" fill="#2a2a2a"/><line x1="498.90000000000003" y1="919.8" x2="498.90000000000003" y2="933.4" stroke="#888" stroke-width="1"/><ellipse cx="505.675" cy="927.6999999999999" rx="3.1" ry="2.5" fill="#2a2a2a"/><line x1="512.45" y1="919.8" x2="512.45" y2="933.4" stroke="#888" stroke-width="1"/><ellipse cx="519.225" cy="927.6999999999999" rx="3.1" ry="2.5" fill="#2a2a2a"/><line x1="526.0" y1="919.8" x2="526.0" y2="933.4" stroke="#888" stroke-width="1"/><ellipse cx="532.775" cy="927.6999999999999" rx="3.1" ry="2.5" fill="#2a2a2a"/><line x1="539.55" y1="919.8" x2="539.55" y2="933.4" stroke="#888" stroke-width="1"/><ellipse cx="546.3249999999999" cy="927.6999999999999" rx="3.1" ry="2.5" fill="#2a2a2a"/><line x1="553.1" y1="919.8" x2="553.1" y2="933.4" stroke="#888" stroke-width="1"/><ellipse cx="559.875" cy="927.6999999999999" rx="3.1" ry="2.5" fill="#2a2a2a"/><line x1="566.65" y1="919.8" x2="566.65" y2="933.4" stroke="#888" stroke-width="1"/><ellipse cx="573.425" cy="927.6999999999999" rx="3.1" ry="2.5" fill="#2a2a2a"/><line x1="580.2" y1="919.8" x2="580.2" y2="933.4" stroke="#888" stroke-width="1"/><ellipse cx="586.975" cy="927.6999999999999" rx="3.1" ry="2.5" fill="#2a2a2a"/>
<path d="M544 908 C545 904 549 904 550 906 L557 913.7 L562 922 L569 922 L569 935.5 L570.7 934.3 C574 940 578 946 583 948 L600 951 L600 980 L555 980 L551 938 L549 935.5 L543.5 935.5 L543.5 922 L546 922 Z" fill="#fff"/><path d="M544 908.3 C543 912 543 915 543.3 915 C545 921 547 925 548 927 C549 931 550 935 551.3 938.3 C553 941 554 943 555.3 945.7" stroke="#777" stroke-width="1.2" fill="none"/><path d="M548 905 C552 907 555 911 557.3 913.7 C559 917 560 920 561.3 923 C565 928 568 931 570.7 934.3 C573 938 575 942 576.7 944.3 C579 947 581 948 583.3 948.3 C590 949 595 950 599.3 951" stroke="#777" stroke-width="1.2" fill="none"/><path d="M555.3 945.7 C550 946 546 947 544 948.3 C541 951 540.5 953 540.7 955 C541 958 542 960 543.3 962.3 C547 966 550 969 552.7 972.3 M555.3 945.7 L554.7 972.3 M543.3 962.3 L531.3 971.7 M546.7 956.3 L556 956.3" stroke="#777" stroke-width="1.2" fill="none"/>
<path d="M644.5 935.2 C653 925 652 912 645 904" stroke="#777" stroke-width="1.3" fill="none"/>
<path d="M633.5 889 L650 901.6 L640 905 Z" fill="#111"/>
<text x="629" y="967.6" font-family="Liberation Serif" font-size="20.5" fill="#222" transform="translate(629,967.6) scale(1,1.08) translate(-629,-967.6)">ON</text>
<circle cx="460.1" cy="966.8" r="27.1" stroke="#8c8c8c" stroke-width="1.3" fill="none"/><text font-family="Liberation Sans" font-weight="bold" font-size="64" text-anchor="middle" fill="#000" stroke="#000" stroke-width="0.9" stroke-linejoin="round" transform="translate(458.3,991.0) scale(0.98,1)">7</text>
<circle cx="523" cy="375" r="26.6" stroke="#8c8c8c" stroke-width="1.3" fill="none"/><text font-family="Liberation Sans" font-weight="bold" font-size="64" text-anchor="middle" fill="#000" stroke="#000" stroke-width="0.9" stroke-linejoin="round" transform="translate(523,398.5) scale(1.05,1)">3</text>
<circle cx="508.4" cy="484" r="26.4" stroke="#8c8c8c" stroke-width="1.3" fill="none"/><text font-family="Liberation Sans" font-weight="bold" font-size="64" text-anchor="middle" fill="#000" stroke="#000" stroke-width="0.9" stroke-linejoin="round" transform="translate(506.59999999999997,505) scale(0.93,1)">4</text>
<circle cx="144" cy="355.6" r="26.8" stroke="#8c8c8c" stroke-width="1.3" fill="none"/><text font-family="Liberation Sans" font-weight="bold" font-size="64" text-anchor="middle" fill="#000" stroke="#000" stroke-width="0.9" stroke-linejoin="round" transform="translate(143.2,377.6) scale(0.97,1)">5</text>
<circle cx="170.6" cy="493.8" r="26.5" stroke="#8c8c8c" stroke-width="1.3" fill="none"/><text font-family="Liberation Sans" font-weight="bold" font-size="64" text-anchor="middle" fill="#000" stroke="#000" stroke-width="0.9" stroke-linejoin="round" transform="translate(168.6,516.3) scale(0.98,1)">6</text>
<circle cx="421.6" cy="1154.3" r="26.8" stroke="#8c8c8c" stroke-width="1.3" fill="none"/><path d="M421 1132.4 L429.8 1132.4 L429.8 1171 L420.9 1171 L420.9 1145.5 Q416.5 1148.5 411.5 1149.5 L411.5 1141.5 Q418 1139 421 1132.4 Z" fill="#1e1614"/>
<path d="M893.3 453 L893.3 1120 M881.5 474 L893.3 452 L905.5 474 M881.5 1099.5 L893.3 1121 L905.5 1099.5" stroke="#3d71b5" stroke-width="3.8" fill="none" stroke-linecap="round" stroke-linejoin="round"/>
<path d="M1401.4 763 L1401.4 1128 M1389.6 783 L1401.4 762 L1413.2 783 M1389.4 1108 L1401.4 1129.5 L1413.2 1108" stroke="#3d71b5" stroke-width="3.8" fill="none" stroke-linecap="round" stroke-linejoin="round"/>
<path d="M988 1178.3 L1389 1178.3 M1008 1166.8 L987 1178.3 L1008.4 1189.7 M1369 1166.8 L1390 1178.3 L1369 1189.7" stroke="#3d71b5" stroke-width="3.8" fill="none" stroke-linecap="round" stroke-linejoin="round"/>
<text font-family="Liberation Sans" font-size="38.3" fill="#111" transform="translate(822,551.2) rotate(90)">H2500MM</text>
<text font-family="Liberation Sans" font-size="38.3" fill="#111" transform="translate(1432.8,857.8) rotate(90)">H180MM</text>
<text x="1104" y="1246.2" font-family="Liberation Sans" font-size="38.3" fill="#111">D270MM</text>
</svg>
</body></html>
